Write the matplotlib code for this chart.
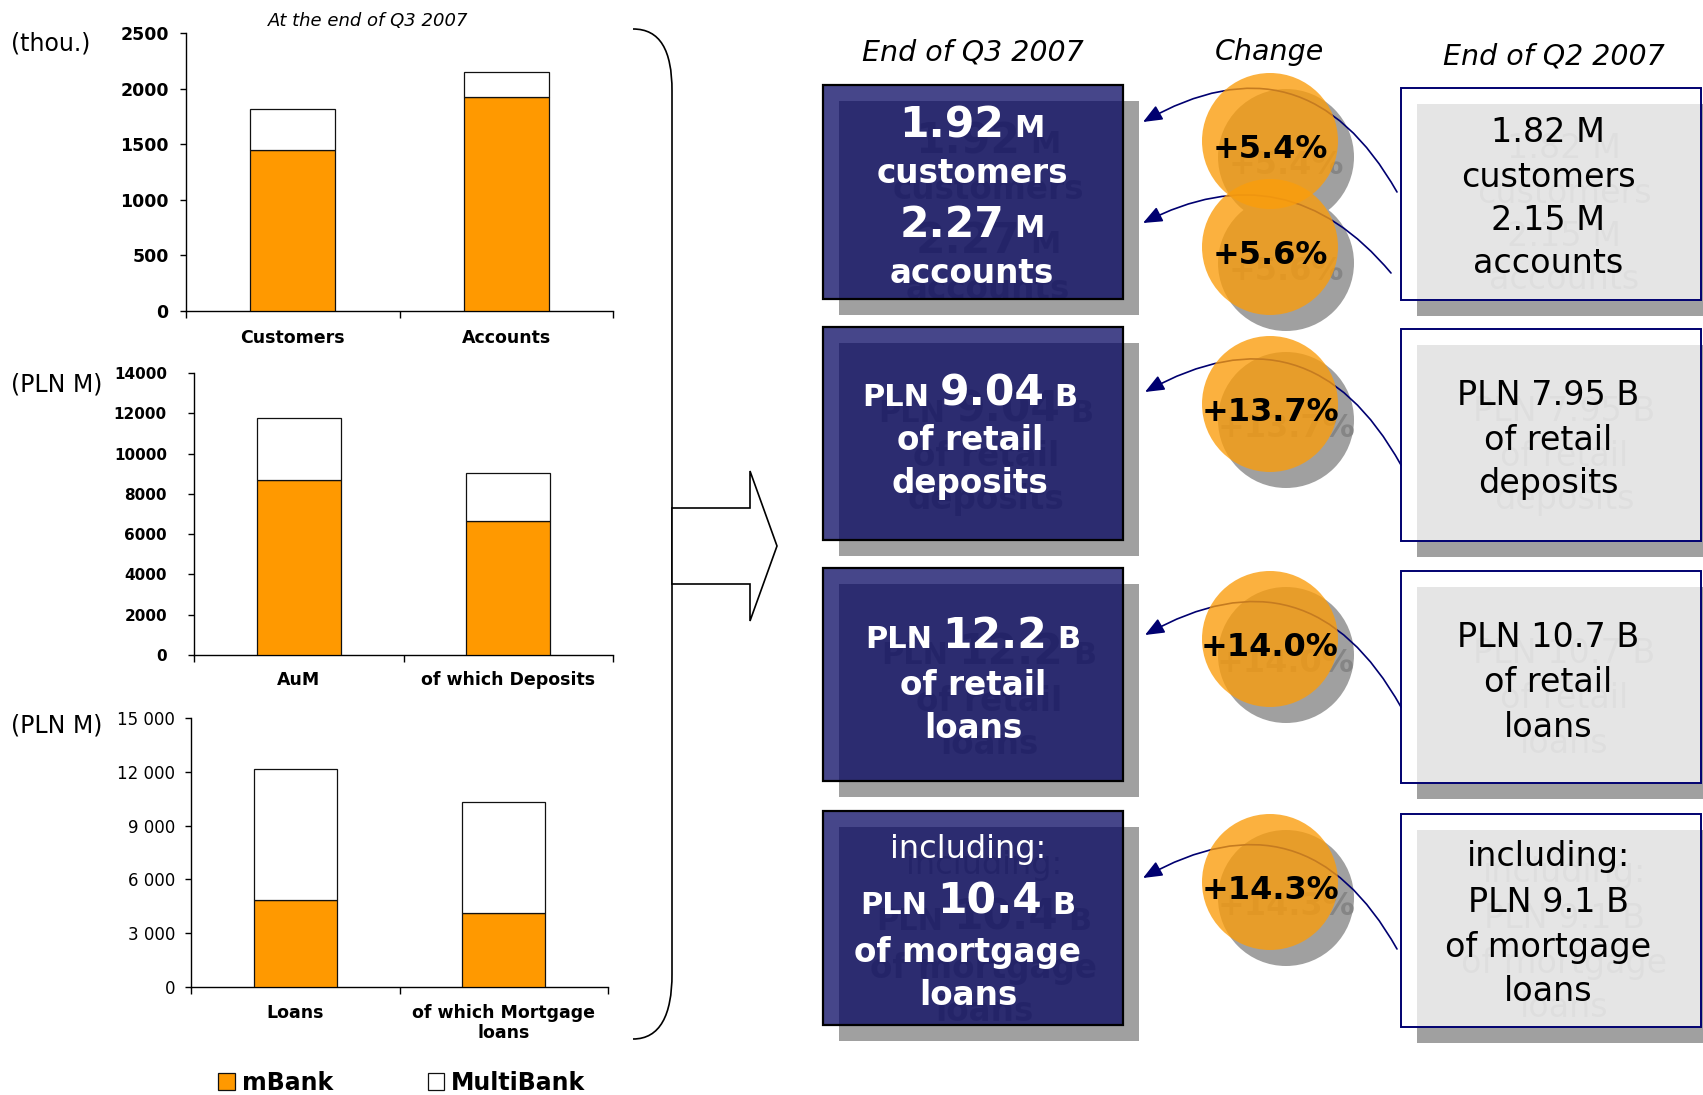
import numpy as np
import matplotlib
matplotlib.use('Agg')
import matplotlib.pyplot as plt
from matplotlib.patches import Rectangle, Ellipse, FancyArrowPatch, PathPatch, Polygon
from matplotlib.path import Path

# ---------------- data ----------------
series_names = ['mBank', 'MultiBank']

cats_clients = ['Customers', 'Accounts']
mbank_clients = [1450, 1920]
multibank_clients = [370, 230]

cats_aum = ['AuM', 'of which Deposits']
mbank_aum = [8700, 6660]
multibank_aum = [3070, 2370]

cats_loans = ['Loans', 'of which Mortgage\nloans']
mbank_loans = [4870, 4130]
multibank_loans = [7260, 6200]

yticks_clients = [0, 500, 1000, 1500, 2000, 2500]
yticks_aum = [0, 2000, 4000, 6000, 8000, 10000, 12000, 14000]
yticks_loans = [0, 3000, 6000, 9000, 12000, 15000]
ylabels_loans = ['0', '3 000', '6 000', '9 000', '12 000', '15 000']

units = ['(thou.)', '(PLN M)', '(PLN M)']
chart_note = 'At the end of Q3 2007'

headers = ['End of Q3 2007', 'Change', 'End of Q2 2007']
q3_values = [1.92, 2.27, 9.04, 12.2, 10.4]
q2_values = [1.82, 2.15, 7.95, 10.7, 9.1]
changes = [5.4, 5.6, 13.7, 14.0, 14.3]

# ---------------- style ----------------
W, H, DPI = 1703, 1095, 100
FONT = 'DejaVu Sans'
ORANGE = '#FF9900'
NAVY = '#000070'
SHADOW = '#a0a0a0'
GHOST = '#858585'
OFF = 16

plt.rcParams['font.family'] = [FONT]
fig = plt.figure(figsize=(W / DPI, H / DPI), dpi=DPI)
fig.patch.set_facecolor('white')

ov = fig.add_axes([0, 0, 1, 1], zorder=0)
ov.set_xlim(0, W)
ov.set_ylim(H, 0)
ov.axis('off')
ov.set_facecolor('none')


# ---------------- left bar charts ----------------
def stacked(rect, cats, base, top, yticks, ylabels, ytick_fs, ytick_wt, ypad, xpad):
    l, t, r, b = rect
    ax = fig.add_axes([l / W, 1 - b / H, (r - l) / W, (b - t) / H], zorder=2)
    ax.set_facecolor('none')
    x = np.arange(len(cats))
    h1 = ax.bar(x, base, width=0.4, color=ORANGE, edgecolor='#111111', linewidth=0.9,
                label=series_names[0], zorder=3)
    h2 = ax.bar(x, top, bottom=base, width=0.4, color='white', edgecolor='#111111',
                linewidth=0.9, label=series_names[1], zorder=3)
    ax.set_xlim(-0.5, len(cats) - 0.5)
    ax.set_ylim(yticks[0], yticks[-1])
    ax.set_yticks(yticks)
    ax.set_yticklabels(ylabels, fontsize=ytick_fs, fontweight=ytick_wt)
    ax.tick_params(axis='y', direction='out', length=4.5, width=1, pad=ypad)
    ax.set_xticks(np.arange(-0.5, len(cats)))
    ax.set_xticklabels([])
    ax.set_xticks(x, minor=True)
    ax.set_xticklabels(cats, minor=True, fontsize=12.5, fontweight='bold')
    ax.tick_params(axis='x', which='major', direction='out', length=5, width=1)
    ax.tick_params(axis='x', which='minor', length=0, pad=xpad)
    for s in ['top', 'right']:
        ax.spines[s].set_visible(False)
    for s in ['left', 'bottom']:
        ax.spines[s].set_linewidth(1.0)
    return h1, h2


stacked((186, 33, 613, 311), cats_clients, mbank_clients, multibank_clients,
        yticks_clients, [str(v) for v in yticks_clients], 12.5, 'bold', 8, 13)
stacked((194, 373, 613, 655), cats_aum, mbank_aum, multibank_aum,
        yticks_aum, [str(v) for v in yticks_aum], 11, 'bold', 15, 11.5)
h1, h2 = stacked((191, 718, 608, 987), cats_loans, mbank_loans, multibank_loans,
                 yticks_loans, ylabels_loans, 12, 'normal', 7, 12)

for txt, yc in zip(units, [43, 385, 726]):
    fig.text(11 / W, 1 - yc / H, txt, fontsize=17, ha='left', va='center')
fig.text(368 / W, 1 - 21 / H, chart_note, fontsize=13, style='italic', ha='center', va='center')

fig.legend(handles=[h1[0], h2[0]], labels=series_names, ncol=2, loc='center',
           bbox_to_anchor=(402 / W, 1 - 1083 / H), frameon=False,
           prop={'size': 17, 'weight': 'bold'}, handlelength=0.7, handleheight=0.7,
           handletextpad=0.3, columnspacing=4.0, borderaxespad=0, borderpad=0)

# ---------------- brace and block arrow ----------------
brace = Path([(633, 29), (660, 29), (672, 50), (672, 91), (672, 974),
              (672, 1015), (660, 1039), (633, 1039)],
             [Path.MOVETO, Path.CURVE4, Path.CURVE4, Path.CURVE4, Path.LINETO,
              Path.CURVE4, Path.CURVE4, Path.CURVE4])
ov.add_patch(PathPatch(brace, fill=False, edgecolor='black', linewidth=1.2, zorder=3))
ov.add_patch(Polygon([(672, 508), (750, 508), (750, 471), (777, 546), (750, 621),
                      (750, 584), (672, 584)], closed=True, facecolor='white',
                     edgecolor='black', linewidth=1.2, zorder=3))

# ---------------- right panel ----------------
renderer = fig.canvas.get_renderer()


def seg_line(xc, yb, segs, color, z, dx=0, dy=0):
    objs, widths = [], []
    for s, size, wt in segs:
        t = ov.text(0, yb + dy, s, fontsize=size, fontweight=wt, color=color,
                    ha='left', va='baseline', zorder=z)
        objs.append(t)
        widths.append(t.get_window_extent(renderer).width)
    gaps = [0.33 * min(segs[i][1], segs[i + 1][1]) * DPI / 72 for i in range(len(segs) - 1)]
    x = xc - (sum(widths) + sum(gaps)) / 2 + dx
    for i, t in enumerate(objs):
        t.set_x(x)
        x += widths[i] + (gaps[i] if i < len(gaps) else 0)


def text_block(xc, lines, color):
    for yb, segs in lines:
        seg_line(xc, yb, segs, GHOST, 2, OFF, OFF)
        seg_line(xc, yb, segs, color, 6)


BIG, UNIT, WORD = 30.5, 22, 23.5


def big(v):
    return (str(v), BIG, 'bold')


def unit(s):
    return (s, UNIT, 'bold')


def word(s):
    return (s, WORD, 'bold')


for txt, xc, yc in zip(headers, [973, 1269, 1554], [52, 52, 56]):
    ov.text(xc, yc, txt, fontsize=20.5, style='italic', ha='center', va='center', zorder=6)

left_boxes = [(85, 299), (327, 540), (568, 781), (811, 1025)]
right_boxes = [(88, 300), (329, 541), (571, 783), (814, 1027)]
LX0, LX1 = 823, 1123
RX0, RX1 = 1401, 1701

for (y0, y1) in left_boxes:
    ov.add_patch(Rectangle((LX0 + OFF, y0 + OFF), LX1 - LX0, y1 - y0, facecolor=SHADOW,
                           edgecolor='none', zorder=1))
    ov.add_patch(Rectangle((LX0, y0), LX1 - LX0, y1 - y0, facecolor=(0, 0, 0.37, 0.726),
                           edgecolor='black', linewidth=1.6, zorder=3))
for (y0, y1) in right_boxes:
    ov.add_patch(Rectangle((RX0 + OFF, y0 + OFF), RX1 - RX0, y1 - y0, facecolor=SHADOW,
                           edgecolor='none', zorder=1, clip_on=False))
    ov.add_patch(Rectangle((RX0, y0), RX1 - RX0, y1 - y0, facecolor=(1, 1, 1, 0.737),
                           edgecolor=NAVY, linewidth=1.4, zorder=3))

left_lines = [
    (972, [(137, [big(q3_values[0]), unit('M')]), (183, [word('customers')]),
           (237, [big(q3_values[1]), unit('M')]), (283, [word('accounts')])]),
    (970, [(406, [unit('PLN'), big(q3_values[2]), unit('B')]), (450, [word('of retail')]),
           (493, [word('deposits')])]),
    (973, [(648, [unit('PLN'), big(q3_values[3]), unit('B')]), (695, [word('of retail')]),
           (738, [word('loans')])]),
    (968, [(858, [('including:', 23, 'normal')]),
           (914, [unit('PLN'), big(q3_values[4]), unit('B')]),
           (962, [word('of mortgage')]), (1005, [word('loans')])]),
]
for xc, lines in left_lines:
    text_block(xc, lines, 'white')

RS = 24
right_lines = [
    [(142, f'{q2_values[0]} M'), (187, 'customers'), (230, f'{q2_values[1]} M'), (273, 'accounts')],
    [(405, f'PLN {q2_values[2]} B'), (450, 'of retail'), (493, 'deposits')],
    [(647, f'PLN {q2_values[3]} B'), (692, 'of retail'), (737, 'loans')],
    [(866, 'including:'), (912, f'PLN {q2_values[4]} B'), (957, 'of mortgage'), (1001, 'loans')],
]
for lines in right_lines:
    text_block(1548, [(yb, [(s, RS, 'normal')]) for yb, s in lines], 'black')

# change bubbles and curved arrows
CX, R = 1270, 68
circle_y = [141, 247, 404, 639, 882]
arrow_start = [(1397, 192), (1391, 273), (1401, 465), (1401, 707), (1397, 949)]
arrow_end = [(1143, 122), (1143, 223), (1145, 392), (1145, 635), (1143, 878)]
arrow_rad = [0.5, 0.4, 0.5, 0.5, 0.5]

for cy in circle_y:
    ov.add_patch(Ellipse((CX + OFF, cy + OFF), 2 * R, 2 * R, facecolor=SHADOW,
                         edgecolor='none', zorder=1))
for a, b, rad in zip(arrow_start, arrow_end, arrow_rad):
    ov.add_patch(FancyArrowPatch(a, b, connectionstyle=f'arc3,rad={rad}',
                                 arrowstyle='-|>,head_length=0.58,head_width=0.24',
                                 mutation_scale=20, color=NAVY, linewidth=1.2,
                                 shrinkA=0, shrinkB=0, zorder=4.5))
for cy, ch in zip(circle_y, changes):
    ov.add_patch(Ellipse((CX, cy), 2 * R, 2 * R, facecolor=(251 / 255, 157 / 255, 11 / 255, 0.79),
                         edgecolor='none', zorder=5))
    lab = f'+{ch:.1f}%'
    seg_line(CX, cy + 17, [(lab, 23, 'bold')], GHOST, 2, OFF, OFF)
    seg_line(CX, cy + 17, [(lab, 23, 'bold')], 'black', 6)

fig.savefig('out.png', dpi=DPI, facecolor='white')
